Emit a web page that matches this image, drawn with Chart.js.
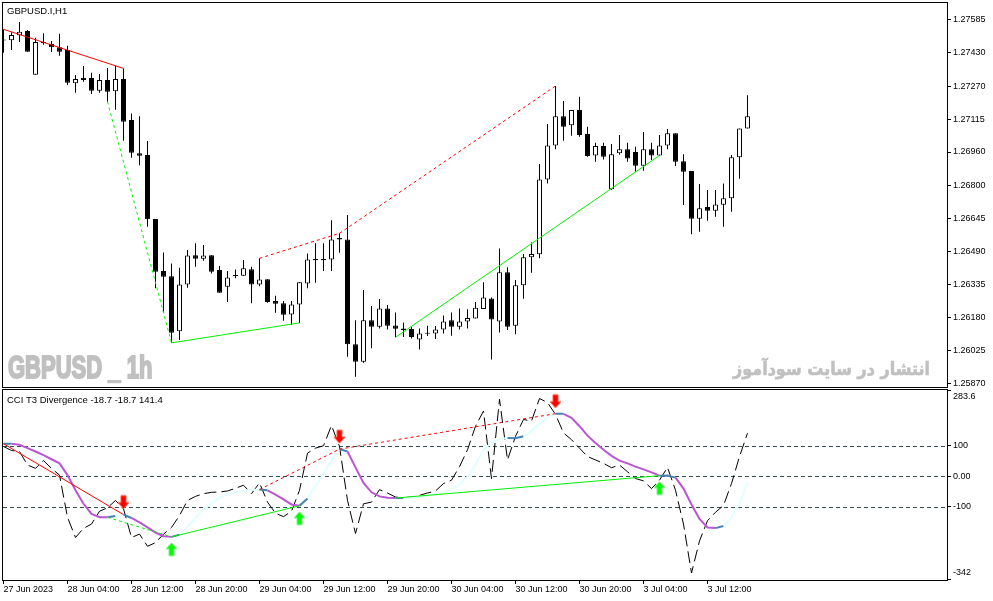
<!DOCTYPE html>
<html>
<head>
<meta charset="utf-8">
<script src="https://cdn.jsdelivr.net/npm/chart.js@4.4.1/dist/chart.umd.min.js"></script>
<style>
  html, body { margin: 0; padding: 0; background: #fff; }
  #wrap { position: relative; width: 993px; height: 601px; overflow: hidden; background: #fff; }
  #main { position: absolute; left: 0; top: 0; }
  #osc { position: absolute; left: 0; top: 388px; }
</style>
</head>
<body>
<div id="wrap">
  <canvas id="main" width="993" height="388"></canvas>
  <canvas id="osc" width="993" height="213"></canvas>
</div>
<script>
// GBPUSD.I H1 candles, bar 0 = 27 Jun 2023 20:00
const opens = [1.27485,1.27486,1.27510,1.27530,1.27324,1.27478,1.27469,1.27453,1.27440,1.27284,
  1.27310,1.27309,1.27249,1.27299,1.27246,1.27304,1.27111,1.26954,1.26946,1.26644,
  1.26399,1.26375,1.26116,1.26336,1.26474,1.26457,1.26474,1.26404,1.26325,1.26378,
  1.26377,1.26408,1.26336,1.26361,1.26258,1.26247,1.26195,1.26242,1.26341,1.26456,
  1.26450,1.26454,1.26555,1.26548,1.26054,1.25972,1.26168,1.26137,1.26223,1.26143,
  1.26129,1.26126,1.26077,1.26104,1.26105,1.26124,1.26168,1.26137,1.26162,1.26176,
  1.26221,1.26270,1.26162,1.26393,1.26141,1.26332,1.26464,1.26478,1.26831,1.26991,
  1.27129,1.27086,1.27158,1.27045,1.26944,1.26988,1.26784,1.26954,1.26973,1.26960,
  1.26895,1.26973,1.26944,1.26991,1.27048,1.26917,1.26870,1.26646,1.26701,1.26683,
  1.26712,1.26742,1.26935,1.27071];
const highs = [1.27538,1.27524,1.27572,1.27535,1.27498,1.27519,1.27483,1.27517,1.27461,1.27323,
  1.27365,1.27333,1.27327,1.27356,1.27366,1.27354,1.27142,1.27129,1.27012,1.26644,
  1.26487,1.26435,1.26415,1.26498,1.26530,1.26522,1.26474,1.26423,1.26399,1.26407,
  1.26451,1.26419,1.26459,1.26361,1.26283,1.26258,1.26258,1.26346,1.26482,1.26530,
  1.26530,1.26639,1.26577,1.26663,1.26168,1.26310,1.26234,1.26267,1.26239,1.26204,
  1.26157,1.26137,1.26129,1.26141,1.26140,1.26190,1.26204,1.26223,1.26219,1.26253,
  1.26347,1.26275,1.26506,1.26417,1.26357,1.26479,1.26534,1.26903,1.27092,1.27271,
  1.27200,1.27158,1.27220,1.27079,1.27004,1.27004,1.26998,1.27040,1.27004,1.26985,
  1.27054,1.27004,1.27040,1.27068,1.27048,1.26950,1.26870,1.26809,1.26781,1.26781,
  1.26812,1.26946,1.27071,1.27228];
const lows = [1.27428,1.27440,1.27478,1.27432,1.27324,1.27465,1.27431,1.27414,1.27276,1.27239,
  1.27291,1.27233,1.27239,1.27197,1.27159,1.27013,1.26933,1.26898,1.26608,1.26318,
  1.26207,1.26061,1.26074,1.26320,1.26419,1.26448,1.26388,1.26297,1.26254,1.26365,
  1.26377,1.26247,1.26328,1.26250,1.26203,1.26165,1.26145,1.26155,1.26318,1.26344,
  1.26400,1.26400,1.26485,1.25995,1.25901,1.25967,1.26035,1.26129,1.26124,1.26087,
  1.26089,1.26082,1.26030,1.26093,1.26079,1.26105,1.26094,1.26124,1.26129,1.26176,
  1.26221,1.25983,1.26110,1.26121,1.26101,1.26269,1.26391,1.26459,1.26812,1.26973,
  1.27013,1.27037,1.27032,1.26938,1.26914,1.26925,1.26781,1.26947,1.26914,1.26867,
  1.26872,1.26922,1.26944,1.26973,1.26894,1.26710,1.26573,1.26584,1.26636,1.26655,
  1.26608,1.26679,1.26834,1.27071];
const closes = [1.27490,1.27511,1.27527,1.27432,1.27478,1.27472,1.27453,1.27432,1.27286,1.27304,
  1.27299,1.27249,1.27299,1.27244,1.27304,1.27103,1.26957,1.26942,1.26643,1.26396,
  1.26372,1.26108,1.26336,1.26473,1.26457,1.26473,1.26396,1.26297,1.26369,1.26376,
  1.26412,1.26336,1.26360,1.26254,1.26245,1.26193,1.26242,1.26346,1.26454,1.26450,
  1.26456,1.26548,1.26548,1.26054,1.25972,1.26168,1.26137,1.26223,1.26141,1.26127,
  1.26122,1.26089,1.26105,1.26106,1.26124,1.26162,1.26137,1.26162,1.26178,1.26226,
  1.26275,1.26171,1.26393,1.26137,1.26332,1.26464,1.26479,1.26831,1.26991,1.27129,
  1.27079,1.27158,1.27040,1.26941,1.26988,1.26938,1.26950,1.26973,1.26930,1.26895,
  1.26973,1.26944,1.26991,1.27048,1.26914,1.26867,1.26646,1.26695,1.26683,1.26713,
  1.26742,1.26935,1.27071,1.27129];

// CCI (black dashed) and its T3 smoothing
const cci = [97.8,84.4,81,36.7,25.6,51.1,25.6,3.3,-135.6,-202,
  -172,-157.8,-115.6,-104.4,-80,-107.8,-202,-191,-231,-219,
  -191,-168.9,-130,-80,-66.7,-57.8,-53.3,-52.2,-48.9,-40,
  -30,-57.8,-22.2,-85.6,-122.2,-133.3,-115.6,-46.7,75.6,92.2,
  100,166.7,97.8,-80,-188.9,-91.1,-85.6,-44.4,-55.6,-68.9,
  -71.1,-68.9,-63.3,-55.6,-48.9,-24.4,-13.3,31.1,86.7,164.4,
  214.4,-7.8,253.3,53.3,131.1,186.7,181.1,255.6,242.2,203.3,
  142.2,120,92.2,64.4,53.3,42.2,27.8,36.7,14.4,-7.8,
  -15.6,-41.1,-13.3,28.9,-46.7,-157.8,-319,-213.3,-146.7,-118.9,
  -96.7,-24.4,64.4,141.4];
const t3 = [106.7,106.5,103.3,92.2,81.1,68.9,55.6,42.2,3.3,-46.7,
  -91.1,-124.4,-135,-135.6,-131,-126.7,-137.8,-152.2,-168.9,-185.6,
  -197.8,-200,-193.3,-168.9,-137.8,-111.1,-88.9,-71.1,-60,-53.3,
  -47.8,-45.6,-44.4,-46.7,-61.1,-76.7,-93.3,-97.8,-73.3,-33.3,
  8.9,53.3,88.9,81.1,28.9,-22.2,-53.3,-66.7,-71.1,-72.2,
  -72.0,-71.1,-68.9,-64.4,-60,-54.4,-44.4,-27.8,-2.2,36.7,
  86.7,111,122.2,125.6,125.0,131.1,150,172.2,193.3,205.6,
  205.0,192.2,164.4,133.3,108.9,86.7,66.7,51.1,42.2,31.1,
  22.2,12.2,1.5,2.0,-5,-41.1,-93.3,-141.1,-168.9,-171.1,
  -164.4,-135.6,-91.1,-18.7];

// divergences: pairs of bar indexes
const bearSolid = [[0, 15]];
const bearDotted = [[32, 42], [42, 69]];
const bullSolid = [[21, 37], [49, 82]];
const bullDotted = [[13, 21]];
const downArrows = [15, 42, 69];
const upArrows = [21, 37, 82];

// axes
const priceTicks = [1.27585, 1.27430, 1.27270, 1.27115, 1.26960, 1.26800, 1.26645, 1.26490, 1.26335, 1.26180, 1.26025, 1.25870];
const priceMin = 1.25853, priceMax = 1.27662;
const oscTicks = [100, 0, -100];
const oscMin = -342, oscMax = 283.6;
const levels = [100, 0, -100];
const timeTickBars = [0, 8, 16, 24, 32, 40, 48, 56, 64, 72, 80, 88];
const timeLabels = ['27 Jun 2023', '28 Jun 04:00', '28 Jun 12:00', '28 Jun 20:00', '29 Jun 04:00', '29 Jun 12:00',
  '29 Jun 20:00', '30 Jun 04:00', '30 Jun 12:00', '30 Jun 20:00', '3 Jul 04:00', '3 Jul 12:00'];

const symbolTitle = 'GBPUSD.I,H1';
const watermark = 'GBPUSD _ 1h';
const watermarkFa = 'انتشار در سایت سودآموز';

const X_MIN = -0.0625, X_MAX = 117.9375;
const AXIS_FONT = { family: 'Liberation Sans', size: 9 };
Chart.defaults.font.family = 'Liberation Sans';
Chart.defaults.font.size = 9;

const idx = opens.map((_, i) => i);

function pairLine(pair, arr, color, dash) {
  return {
    type: 'line',
    data: pair.map(i => ({ x: i, y: arr[i] })),
    borderColor: color,
    borderWidth: 1,
    borderDash: dash,
    pointRadius: 0,
    fill: false,
    tension: 0,
    order: 0
  };
}

function divLines(bearArr, bullArr) {
  const out = [];
  bearSolid.forEach(p => out.push(pairLine(p, bearArr, '#ff0000', [])));
  bearDotted.forEach(p => out.push(pairLine(p, bearArr, '#ff0000', [3, 3])));
  bullSolid.forEach(p => out.push(pairLine(p, bullArr, '#00f000', [])));
  bullDotted.forEach(p => out.push(pairLine(p, bullArr, '#00f000', [3, 3])));
  return out;
}

function drawFrame(chart) {
  const { ctx, chartArea: a } = chart;
  ctx.save();
  ctx.strokeStyle = '#000';
  ctx.lineWidth = 1;
  ctx.setLineDash([]);
  ctx.strokeRect(a.left - 0.5, a.top - 0.5, a.right - a.left + 1, a.bottom - a.top + 1);
  ctx.restore();
}

// ---------- main price chart ----------
const mainDecor = {
  id: 'mainDecor',
  beforeDatasetsDraw(chart) {
    const { ctx, chartArea: a } = chart;
    ctx.save();
    ctx.fillStyle = '#c0c0c0';
    ctx.strokeStyle = '#c0c0c0';
    ctx.font = 'bold 31px "Liberation Sans"';
    ctx.textBaseline = 'alphabetic';
    ctx.translate(a.left + 5, 378);
    ctx.scale(0.71, 1);
    ctx.lineWidth = 2;
    ctx.strokeText(watermark, 0, 0);
    ctx.fillText(watermark, 0, 0);
    ctx.restore();

    ctx.save();
    ctx.fillStyle = '#c0c0c0';
    ctx.strokeStyle = '#c0c0c0';
    ctx.font = 'bold 18px "DejaVu Sans"';
    ctx.textAlign = 'right';
    ctx.textBaseline = 'alphabetic';
    const w = ctx.measureText(watermarkFa).width;
    ctx.translate(930, 375);
    ctx.scale(Math.min(1.3, 197 / w), 1);
    ctx.lineWidth = 0.6;
    ctx.strokeText(watermarkFa, 0, 0);
    ctx.fillText(watermarkFa, 0, 0);
    ctx.restore();
  },
  afterDraw(chart) {
    drawFrame(chart);
    const { ctx } = chart;
    ctx.save();
    ctx.fillStyle = '#000';
    ctx.font = '9.5px "Liberation Sans"';
    ctx.textBaseline = 'alphabetic';
    ctx.fillText(symbolTitle, 7, 14);
    ctx.restore();
  }
};

new Chart(document.getElementById('main'), {
  type: 'bar',
  data: {
    datasets: [
      {
        label: 'wick',
        data: idx.map(i => ({ x: i, y: [lows[i], highs[i]] })),
        backgroundColor: '#000',
        borderWidth: 0,
        barThickness: 1,
        minBarLength: 1,
        inflateAmount: 0,
        grouped: false,
        order: 2
      },
      {
        label: 'body',
        data: idx.map(i => ({ x: i, y: [opens[i], closes[i]] })),
        backgroundColor: idx.map(i => closes[i] >= opens[i] ? '#ffffff' : '#000000'),
        borderColor: '#000',
        borderWidth: 1,
        borderSkipped: false,
        barThickness: 5,
        minBarLength: 1,
        inflateAmount: 0,
        grouped: false,
        order: 1
      },
      ...divLines(highs, lows)
    ]
  },
  options: {
    responsive: false,
    animation: false,
    events: [],
    layout: { autoPadding: false, padding: { left: 3, top: 3, right: 0, bottom: 1 } },
    plugins: { legend: { display: false }, tooltip: { enabled: false } },
    scales: {
      x: { type: 'linear', min: X_MIN, max: X_MAX, offset: false, display: false },
      y: {
        position: 'right',
        min: priceMin,
        max: priceMax,
        afterBuildTicks: s => { s.ticks = priceTicks.map(v => ({ value: v })); },
        afterFit: s => { s.width = 46; s.paddingTop = 0; s.paddingBottom = 0; },
        grid: { drawOnChartArea: false, drawTicks: true, tickLength: 4, color: '#000' },
        border: { display: false },
        ticks: { padding: 2, color: '#000', font: AXIS_FONT, callback: v => Number(v).toFixed(5) }
      }
    }
  },
  plugins: [mainDecor]
});

// ---------- CCI T3 divergence window ----------
const steel = '#4682b4', cyan = '#e0ffff', orchid = '#ba55d3';
const t3SegColors = t3.slice(1).map((v, i) => {
  const dir = Math.sign(v - t3[i]);
  const prev = i > 0 ? Math.sign(t3[i] - t3[i - 1]) : 0;
  if (dir !== prev) return steel;
  return dir > 0 ? cyan : orchid;
});

function arrowImage(color, edge, down) {
  const c = document.createElement('canvas');
  c.width = 15; c.height = 44;
  const g = c.getContext('2d');
  const cx = 7.5;
  const s = down ? 1 : -1;
  const tip = 22 - s * 6;
  const top = tip - s * 13;
  const neck = tip - s * 6;
  g.beginPath();
  g.moveTo(cx - 2.5, top); g.lineTo(cx + 2.5, top);
  g.lineTo(cx + 2.5, neck); g.lineTo(cx + 5.5, neck);
  g.lineTo(cx, tip);
  g.lineTo(cx - 5.5, neck); g.lineTo(cx - 2.5, neck);
  g.closePath();
  g.fillStyle = color;
  g.fill();
  g.strokeStyle = edge;
  g.lineWidth = 1;
  g.stroke();
  return c;
}
const redArrow = arrowImage('#ff0000', '#ff5a3c', true);
const greenArrow = arrowImage('#00ff00', '#7cf07c', false);

const oscDecor = {
  id: 'oscDecor',
  beforeDatasetsDraw(chart) {
    const { ctx, chartArea: a, scales } = chart;
    ctx.save();
    ctx.strokeStyle = '#2f4f4f';
    ctx.lineWidth = 1;
    ctx.setLineDash([4, 3]);
    levels.forEach(v => {
      const y = Math.round(scales.y.getPixelForValue(v)) + 0.5;
      ctx.beginPath();
      ctx.moveTo(a.left, y);
      ctx.lineTo(a.right, y);
      ctx.stroke();
    });
    ctx.restore();
  },
  afterDraw(chart) {
    drawFrame(chart);
    const { ctx, chartArea: a, scales } = chart;
    ctx.save();
    ctx.fillStyle = '#000';
    ctx.strokeStyle = '#000';
    ctx.lineWidth = 1;
    ctx.font = '9px "Liberation Sans"';
    ctx.textBaseline = 'middle';
    const ys = scales.y;
    [[ys.max, a.top + 0.5, a.top + 7], [ys.min, a.bottom - 0.5, a.bottom - 7]].forEach(([v, tickY, textY]) => {
      ctx.beginPath();
      ctx.moveTo(a.right, tickY);
      ctx.lineTo(a.right + 4, tickY);
      ctx.stroke();
      ctx.fillText(String(v), a.right + 6, textY);
    });
    ctx.font = '9.5px "Liberation Sans"';
    ctx.textBaseline = 'alphabetic';
    const last = t3.length - 1;
    const title = 'CCI T3 Divergence ' + t3[last].toFixed(1) + ' ' + t3[last].toFixed(1) + ' ' + cci[last].toFixed(1);
    ctx.fillText(title, 7, 14.5);
    ctx.restore();
  }
};

new Chart(document.getElementById('osc'), {
  type: 'line',
  data: {
    datasets: [
      {
        label: 'CCI',
        data: idx.map(i => ({ x: i, y: cci[i] })),
        borderColor: '#000',
        borderWidth: 1,
        borderDash: [12, 5],
        pointRadius: 0,
        tension: 0,
        order: 3
      },
      {
        label: 'T3',
        data: idx.map(i => ({ x: i, y: t3[i] })),
        borderColor: orchid,
        borderWidth: 2,
        pointRadius: 0,
        tension: 0,
        segment: { borderColor: c => t3SegColors[c.p0DataIndex] },
        order: 2
      },
      ...divLines(t3, t3),
      {
        label: 'down',
        data: downArrows.map(i => ({ x: i, y: t3[i] })),
        showLine: false,
        pointStyle: redArrow,
        pointRadius: 6,
        order: -1
      },
      {
        label: 'up',
        data: upArrows.map(i => ({ x: i, y: t3[i] })),
        showLine: false,
        pointStyle: greenArrow,
        pointRadius: 6,
        order: -1
      }
    ]
  },
  options: {
    responsive: false,
    animation: false,
    events: [],
    layout: { autoPadding: false, padding: { left: 3, top: 2, right: 0, bottom: 0 } },
    plugins: { legend: { display: false }, tooltip: { enabled: false } },
    scales: {
      x: {
        type: 'linear',
        min: X_MIN,
        max: X_MAX,
        offset: false,
        afterBuildTicks: s => { s.ticks = timeTickBars.map(v => ({ value: v })); },
        afterFit: s => { s.height = 21; s.paddingLeft = 0; s.paddingRight = 0; },
        grid: { drawOnChartArea: false, drawTicks: true, tickLength: 4, color: '#000' },
        border: { display: false },
        ticks: {
          align: 'start', padding: 0, maxRotation: 0, minRotation: 0, autoSkip: false,
          color: '#000', font: AXIS_FONT,
          callback: (v, i) => timeLabels[i]
        }
      },
      y: {
        position: 'right',
        min: oscMin,
        max: oscMax,
        afterBuildTicks: s => { s.ticks = oscTicks.map(v => ({ value: v })); },
        afterFit: s => { s.width = 46; s.paddingTop = 0; s.paddingBottom = 0; },
        grid: { drawOnChartArea: false, drawTicks: true, tickLength: 4, color: '#000' },
        border: { display: false },
        ticks: { padding: 2, color: '#000', font: AXIS_FONT, callback: v => v === 0 ? '0.00' : String(v) }
      }
    }
  },
  plugins: [oscDecor]
});
</script>
</body>
</html>
